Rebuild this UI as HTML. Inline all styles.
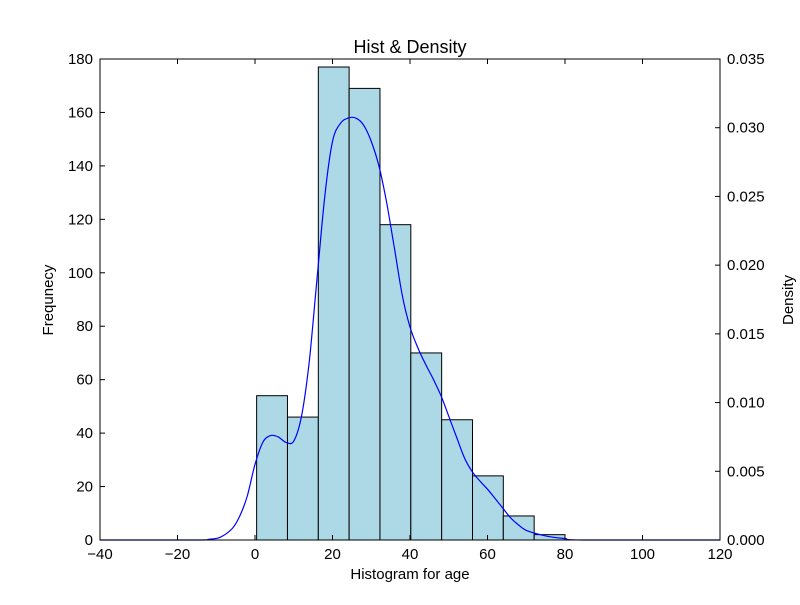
<!DOCTYPE html>
<html><head><meta charset="utf-8"><style>
body{margin:0;background:#fff;}
svg text{font-family:"Liberation Sans","DejaVu Sans",sans-serif;}
</style></head><body>
<svg id="chart" width="800" height="600" xmlns="http://www.w3.org/2000/svg">
<rect width="800" height="600" fill="#fff"/>
<g id="bars"></g>
<g id="curve"></g>
<g id="axes"></g>
<text x="410" y="53" font-size="18" text-anchor="middle">Hist &amp; Density</text>
<text x="410" y="579" font-size="15" text-anchor="middle">Histogram for age</text>
<text transform="translate(53,300) rotate(-90)" font-size="15" text-anchor="middle">Frequnecy</text>
<text transform="translate(793,300) rotate(-90)" font-size="15" text-anchor="middle">Density</text>
</svg>
<script>
const binEdges=[0.42,8.38,16.34,24.29,32.25,40.21,48.17,56.13,64.08,72.04,80];
const counts=[54,46,177,169,118,70,45,24,9,2];
const densX=[-40,-15,-12,-9,-6,-4,-2,0,2,4,6,8,10,12,14,16,18,20,22,24,26,28,30,32,34,36,38,40,42,44,46,48,50,52,54,56,58,60,62,64,66,68,70,75,80,85,120];
const densY=[0,0,0.00005,0.0002,0.0008,0.0017,0.0032,0.0055,0.0071,0.0076,0.0075,0.0071,0.0072,0.009,0.013,0.019,0.025,0.029,0.0303,0.0307,0.0307,0.0302,0.029,0.0272,0.0245,0.0212,0.0178,0.0155,0.014,0.0128,0.0117,0.0105,0.009,0.0075,0.006,0.005,0.0043,0.0037,0.003,0.0023,0.0016,0.0011,0.0007,0.0003,0.0001,0,0];
const xTicks=[-40,-20,0,20,40,60,80,100,120];
const yTicks=[0,20,40,60,80,100,120,140,160,180];
const y2Ticks=[0,0.005,0.01,0.015,0.02,0.025,0.03,0.035];
const y2Labels=["0.000","0.005","0.010","0.015","0.020","0.025","0.030","0.035"];

const L=100,R=720,T=59,B=540;
const sx=v=>L+(v+40)/160*(R-L);
const sy=v=>B-v/180*(B-T);
const sy2=v=>B-v/0.035*(B-T);
const NS="http://www.w3.org/2000/svg";
function mk(tag,attrs,parent){const e=document.createElementNS(NS,tag);for(const k in attrs)e.setAttribute(k,attrs[k]);parent.appendChild(e);return e;}
const bars=document.getElementById('bars');
counts.forEach((c,i)=>{
  const x0=sx(binEdges[i]),x1=sx(binEdges[i+1]);
  const r=mk('rect',{x:x0,y:sy(c),width:x1-x0,height:B-sy(c),fill:'#add8e6',stroke:'#000','stroke-width':1},bars);
  
  
});
const cg=document.getElementById('curve');
const pts=densX.map((x,i)=>[sx(x),sy2(densY[i])]);
let d='M'+pts[0][0]+','+pts[0][1];
for(let i=0;i<pts.length-1;i++){
  const p0=pts[Math.max(0,i-1)],p1=pts[i],p2=pts[i+1],p3=pts[Math.min(pts.length-1,i+2)];
  const c1=[p1[0]+(p2[0]-p0[0])/6,p1[1]+(p2[1]-p0[1])/6];
  const c2=[p2[0]-(p3[0]-p1[0])/6,p2[1]-(p3[1]-p1[1])/6];
  d+=' C'+c1[0].toFixed(1)+','+Math.min(B,c1[1]).toFixed(1)+' '+c2[0].toFixed(1)+','+Math.min(B,c2[1]).toFixed(1)+' '+p2[0].toFixed(1)+','+p2[1].toFixed(1);
}
const p=mk('path',{d:d,fill:'none',stroke:'#0000ff','stroke-width':1.2},cg);


const ax=document.getElementById('axes');
mk('rect',{x:L,y:T,width:R-L,height:B-T,fill:'none',stroke:'#000','stroke-width':1},ax);
xTicks.forEach(v=>{const x=sx(v);
  mk('line',{x1:x,x2:x,y1:B,y2:B-5,stroke:'#000'},ax);
  mk('line',{x1:x,x2:x,y1:T,y2:T+5,stroke:'#000'},ax);
  const t=mk('text',{x:x,y:B+19,'font-size':15,'text-anchor':'middle'},ax);
  t.textContent=(v<0?'\u2212'+(-v):v);
  
  
});
yTicks.forEach(v=>{const y=sy(v);
  mk('line',{x1:L,x2:L+5,y1:y,y2:y,stroke:'#000'},ax);
  const t=mk('text',{x:L-7,y:y+5,'font-size':15,'text-anchor':'end'},ax);
  t.textContent=v;
  
  
});
y2Ticks.forEach((v,i)=>{const y=sy2(v);
  mk('line',{x1:R,x2:R-5,y1:y,y2:y,stroke:'#000'},ax);
  const t=mk('text',{x:R+7,y:y+5,'font-size':15,'text-anchor':'start'},ax);
  t.textContent=y2Labels[i];
  
  
});
</script>
</body></html>
